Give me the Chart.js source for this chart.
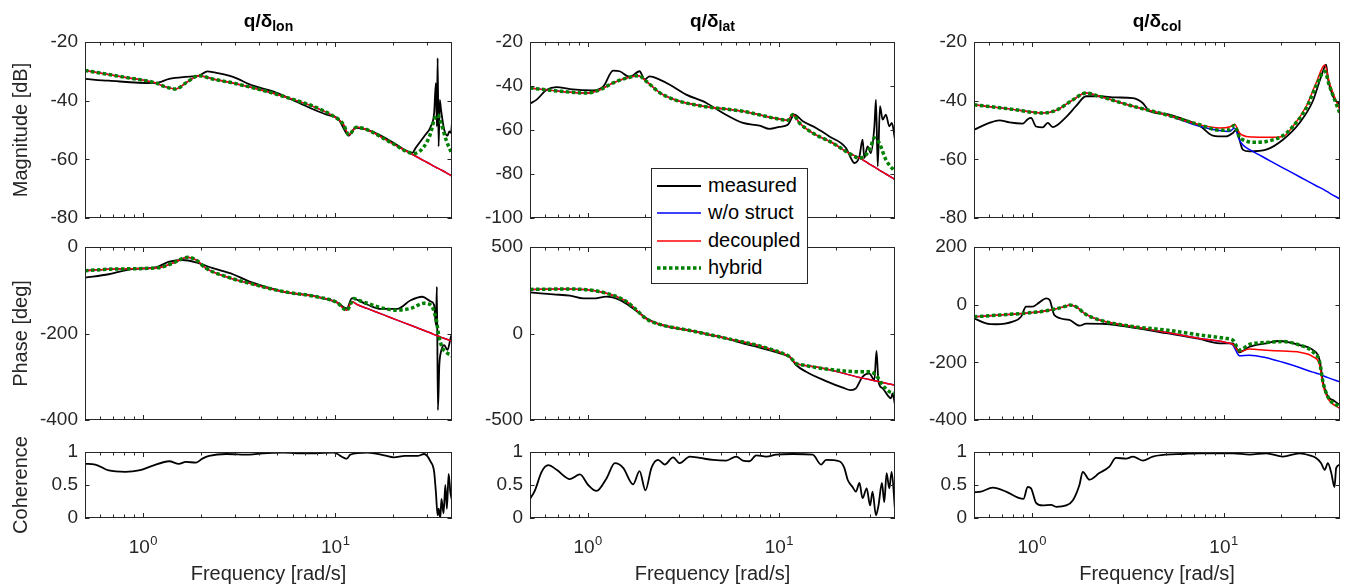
<!DOCTYPE html>
<html>
<head>
<meta charset="utf-8">
<script src="https://cdn.jsdelivr.net/npm/chart.js@4.4.1/dist/chart.umd.min.js"></script>
<style>
  html, body { margin: 0; padding: 0; background: #fff; }
  #fig { position: relative; width: 1349px; height: 588px; overflow: hidden;
         font-family: "Liberation Sans", Arial, Helvetica, sans-serif; color: #262626; }
  #fig canvas { position: absolute; }
  .ttl { position: absolute; top: 10px; width: 300px; text-align: center; font-weight: bold;
         font-size: 19px; line-height: 22px; color: #000; white-space: nowrap; }
  .ttl sub { font-size: 14px; vertical-align: -4px; line-height: 0; }
  #legend { position: absolute; left: 651px; top: 168px; width: 155px; height: 114px;
            border: 1px solid #262626; background: #fff; z-index: 5; }
  #legend svg { position: absolute; left: 5px; }
  #legend span { position: absolute; left: 56px; font-size: 20px; line-height: 24px; color: #000; }
</style>
</head>
<body>
<div id="fig"><div id="legend"></div></div>
<script>
// ========== DATA (frequency in rad/s) ==========
// q / delta_lon
const lonMagF   = [0.5, 0.8, 1.17, 1.3, 1.48, 1.71, 1.96, 2.3, 2.94, 5.36, 9.8, 11.06, 11.75, 12.9, 14.65, 20, 25.7, 29, 31.4, 32.7, 34.1, 35.5, 37.7, 40.5];
const lonMagDec = [-29.7, -32, -34, -35.2, -36, -33.5, -31.5, -32.6, -34, -38.5, -45.3, -48.2, -51.6, -49.1, -49.9, -54.7, -58.6, -60.5, -61.7, -62.4, -63, -63.6, -64.5, -65.7];
const lonMagHyb = [-29.7, -32, -34, -35.2, -36, -33.5, -31.5, -32.6, -34, -38.5, -45.3, -48.2, -51.6, -49.1, -49.9, -54.7, -58, -55.6, -51, -46.5, -44.8, -47.6, -53.3, -58.2];
const lonMagMeasF = [0.5, 0.664, 1.12, 1.21, 1.37, 1.67, 1.96, 2.17, 2.31, 2.94, 3.74, 4.75, 5.81, 7.4, 9.04, 10.4, 11.28, 11.75, 12.73, 14.65, 20.2, 22.8, 25.2, 26.2, 29.0, 31.4, 32.7, 33.4, 33.8, 34.1, 34.5, 35.0, 35.5, 36.9, 38.4, 39.2, 40.0, 40.5];
const lonMagMeas  = [-32.6, -33.2, -34, -33.8, -32.6, -31.9, -31.5, -30, -30.3, -31.9, -34.9, -36.8, -39.3, -42.5, -44.8, -46.3, -50.5, -51.9, -49.3, -49.9, -54.4, -56.7, -57.8, -56.1, -52.2, -48.8, -44.2, -34, -48.8, -25.5, -55.6, -39.7, -43, -49.9, -51.9, -50.5, -51, -47.6];

const lonPhF   = [0.5, 0.719, 1.21, 1.42, 1.71, 1.89, 2.13, 2.71, 3.59, 5.36, 8.02, 10.2, 11.5, 12.2, 12.5, 13, 14.65, 17.9, 21, 24.7, 29, 31.4, 33.4, 34.8, 36.2, 38.4, 40, 40.5];
const lonPhDec = [-54.7, -50.9, -47.8, -37.8, -23.9, -30, -49.3, -68.6, -84, -103, -115, -128, -146, -126, -128, -133, -142, -157, -169, -181, -193, -199, -204, -207, -210, -214, -217, -218];
const lonPhHyb = [-54.7, -50.9, -47.8, -37.8, -23.9, -30, -49.3, -68.6, -84, -103, -115, -128, -146, -126, -119, -122, -130, -142, -146, -142, -130, -134, -165, -211, -234, -246, -250, -252];
const lonPhMeasF = [0.5, 0.664, 0.88, 1.165, 1.37, 1.61, 1.89, 2.31, 2.94, 3.59, 5.36, 8.02, 10.2, 11.5, 12.2, 14.65, 17.2, 21.0, 24.7, 28.4, 31.4, 32.7, 33.4, 33.8, 34.2, 34.8, 35.5, 36.9, 38.4, 40.0, 40.5];
const lonPhMeas  = [-71, -63, -51, -47, -34, -30, -35.5, -49, -63, -80, -103, -115, -128, -142, -119, -133, -143, -143, -123, -115, -126, -134, -180, -92, -377, -273, -242, -227, -238, -207, -204];

const lonCohF = [0.5, 0.565, 0.664, 0.811, 0.953, 1.12, 1.37, 1.54, 1.67, 1.89, 2.04, 2.21, 2.71, 3.59, 4.2, 5.36, 7, 9.8, 11.5, 11.98, 14.65, 16, 18, 20.2, 23, 26.8, 29.0, 31.4, 32.7, 33.4, 34.1, 34.5, 35.2, 35.7, 36.6, 37.4, 38.1, 38.9, 39.7, 40.5];
const lonCoh  = [0.82, 0.81, 0.72, 0.70, 0.72, 0.79, 0.86, 0.82, 0.85, 0.84, 0.90, 0.94, 0.97, 0.96, 0.98, 0.99, 0.98, 0.99, 0.90, 0.96, 0.99, 0.98, 0.95, 0.92, 0.94, 0.94, 0.97, 0.85, 0.70, 0.39, 0.04, 0.14, 0.0, 0.29, 0.07, 0.5, 0.14, 0.67, 0.39, 0.27];

// q / delta_lat
const latMagF   = [0.5, 0.717, 0.988, 1.16, 1.36, 1.6, 1.84, 2.03, 2.38, 2.91, 4.01, 6.49, 9.68, 11.14, 11.83, 12.82, 15.04, 19.13, 22.9, 26.4, 28.6, 30.3, 31.6, 33.5, 36.3, 40.5];
const latMagDec = [-40.9, -42.4, -43.2, -41.7, -38.6, -36.4, -35.3, -37.9, -43, -46.5, -49.2, -51.5, -54.8, -55.6, -53, -56.8, -61.4, -65.9, -70.2, -72.7, -74.5, -75.9, -76.8, -78.2, -80, -82.5];
const latMagHyb = [-40.9, -42.4, -43.2, -41.7, -38.6, -36.4, -35.3, -37.9, -43, -46.5, -49.2, -51.5, -54.8, -55.6, -53, -56.8, -61.4, -65.9, -70.2, -72.7, -71.2, -67.4, -63.6, -65.9, -73.5, -79];
const latMagMeasF = [0.5, 0.542, 0.611, 0.689, 0.809, 1.07, 1.21, 1.36, 1.47, 1.66, 1.87, 1.99, 2.11, 2.38, 2.69, 3.28, 4.18, 5.1, 6.49, 7.93, 8.94, 10.08, 11.14, 12.07, 13.35, 15.66, 18.38, 22.45, 23.8, 24.8, 26.4, 27.4, 28.0, 29.1, 30.3, 31.6, 32.2, 32.9, 33.8, 34.9, 36.3, 37.8, 39.0, 40.5];
const latMagMeas  = [-48, -46.2, -41.7, -40.5, -41.4, -42, -40.2, -33, -33.3, -35.9, -33.3, -37.1, -35.6, -37.1, -39.4, -43.9, -47.7, -52.3, -56.8, -58, -59.5, -58.6, -57.6, -53, -56, -59.1, -62.9, -68.2, -72.7, -75, -72, -64.4, -72.7, -67.4, -70.5, -58.3, -46.2, -76.5, -49.2, -55.3, -53, -58.3, -56.8, -64.4];

const latPhF   = [0.5, 0.777, 1.114, 1.417, 1.6, 1.8, 2.03, 2.38, 3.56, 5.31, 7.93, 10.49, 11.37, 12.31, 13.35, 17.66, 26.4, 29.7, 32.2, 34.9, 37.8, 40.5];
const latPhDec = [255, 257, 246, 213, 184, 136, 84, 53, 14, -28, -72, -115, -134, -173, -182, -205, -254, -266, -275, -283, -292, -299];
const latPhHyb = [255, 257, 246, 213, 184, 136, 84, 53, 14, -28, -72, -115, -134, -173, -182, -205, -221, -221, -240, -298, -336, -346];
const latPhMeasF = [0.5, 0.662, 0.809, 0.949, 1.07, 1.256, 1.47, 1.73, 2.03, 2.38, 3.56, 5.31, 6.49, 7.93, 10.49, 11.37, 12.31, 13.89, 17.66, 21.6, 23.8, 25.3, 27.4, 29.7, 31.6, 32.4, 33.2, 34.9, 37.0, 38.6, 39.3, 40.5];
const latPhMeas  = [238, 226, 219, 203, 203, 213, 194, 145, 88, 53, 14, -28, -57, -82, -120, -134, -182, -221, -275, -313, -327, -317, -250, -230, -269, -101, -279, -317, -356, -375, -346, -413];

const latCohF = [0.5, 0.531, 0.575, 0.623, 0.689, 0.809, 0.912, 1.008, 1.114, 1.256, 1.389, 1.535, 1.73, 1.87, 2.007, 2.158, 2.337, 2.532, 2.8, 3.03, 3.42, 3.86, 4.53, 5.31, 5.99, 6.49, 7.03, 7.62, 8.59, 9.68, 11.83, 15.04, 16.63, 17.66, 20.7, 22.0, 22.9, 24.3, 25.3, 26.4, 27.4, 28.8, 30.0, 30.9, 32.2, 33.2, 34.6, 35.6, 36.6, 37.8, 38.9, 40.5];
const latCoh  = [0.29, 0.42, 0.70, 0.80, 0.73, 0.59, 0.66, 0.50, 0.41, 0.60, 0.83, 0.76, 0.51, 0.71, 0.42, 0.76, 0.88, 0.81, 0.92, 0.83, 0.93, 0.91, 0.88, 0.87, 0.93, 0.87, 0.86, 0.95, 0.93, 0.96, 0.97, 0.96, 0.81, 0.88, 0.86, 0.76, 0.58, 0.47, 0.40, 0.53, 0.30, 0.45, 0.19, 0.40, 0.04, 0.19, 0.53, 0.24, 0.68, 0.45, 0.70, 0.12];

// q / delta_col
const colMagF   = [0.5, 0.765, 1.14, 1.34, 1.64, 1.92, 2.25, 3.37, 5.02, 7.5, 9.53, 10.75, 11.41, 12.12, 12.6, 13.13, 14.22, 16.7, 20.4, 23.0, 27.0, 30.4, 33.7, 35.7, 40.5];
const colMagDec = [-41.4, -42.8, -44.2, -43.3, -39.7, -37.4, -38.5, -41.9, -44.8, -48.2, -49.3, -49, -48, -51, -51.8, -52.2, -52.4, -52.5, -52.2, -48.8, -41.9, -34, -27.8, -34, -43.3];
const colMagNo  = [-41.4, -42.8, -44.2, -43.3, -39.7, -37.4, -38.5, -41.9, -44.8, -48.7, -50.2, -50.5, -49.3, -53.5, -55, -56, -57.3, -59.8, -62.9, -64.7, -67.2, -69, -70.5, -71.5, -73.5];
const colMagHyb = [-41.4, -42.8, -44.2, -43.3, -39.7, -37.4, -38.5, -41.9, -44.8, -48.2, -50.1, -49.9, -48.5, -52.5, -53.3, -53.8, -54.2, -53.9, -51.9, -48.8, -42.5, -35, -30, -35, -44.4];
const colMagMeasF = [0.5, 0.601, 0.678, 0.765, 0.898, 0.953, 0.992, 1.053, 1.14, 1.212, 1.287, 1.51, 1.70, 1.92, 2.25, 2.75, 3.37, 3.79, 4.11, 5.02, 6.14, 7.5, 8.8, 10.3, 11.19, 11.65, 12.6, 13.67, 16.7, 20.4, 24.9, 29.2, 32.3, 34.3, 35.0, 37.2, 40.5];
const colMagMeas  = [-49.9, -47.6, -46.7, -47.4, -47.8, -46.3, -45.9, -48.8, -49.1, -47.6, -49, -45.6, -41.9, -38.5, -38.5, -38.9, -39.1, -40.8, -43.6, -44.5, -46.3, -48.5, -51.9, -52.2, -51, -49.9, -56.7, -57.3, -56.7, -53.3, -47.6, -40.2, -31.7, -27.7, -32.3, -38.5, -41.4];

const colPhF   = [0.5, 0.678, 1.01, 1.24, 1.51, 1.57, 1.70, 1.92, 2.25, 3.37, 5.02, 7.5, 10.3, 11.19, 12.12, 13.67, 16.7, 20.4, 24.9, 29.2, 31.7, 33.0, 35.0, 40.5];
const colPhDec = [-42, -36, -27, -19, -5, -1, -7, -34, -53, -76, -96, -117, -131, -138, -163, -154, -158, -161, -165, -180, -209, -279, -325, -361];
const colPhNo  = [-42, -36, -27, -19, -5, -1, -7, -34, -53, -76, -96, -117, -131, -140, -177, -175, -184, -200, -218, -234, -241, -246, -253, -268];
const colPhHyb = [-42, -36, -27, -19, -5, -1, -7, -34, -53, -76, -88, -105, -117, -123, -157, -138, -131, -128, -140, -163, -198, -267, -319, -355];
const colPhMeasF = [0.5, 0.578, 0.652, 0.796, 0.88, 0.934, 1.01, 1.096, 1.188, 1.24, 1.313, 1.57, 1.773, 1.92, 2.44, 3.37, 5.02, 7.5, 9.53, 11.19, 12.12, 13.67, 16.7, 19.6, 24.9, 29.2, 31.7, 33.0, 35.0, 37.2, 40.5];
const colPhMeas  = [-47, -65, -68, -59, -42, -7, -7, 8, 22, 16, -36, -53, -73, -66, -67, -80, -99, -119, -134, -134, -165, -146, -134, -126, -140, -157, -192, -267, -319, -331, -348];

const colCohF = [0.5, 0.544, 0.626, 0.735, 0.862, 0.905, 0.953, 0.992, 1.053, 1.14, 1.261, 1.34, 1.51, 1.64, 1.773, 1.845, 2.0, 2.25, 2.54, 2.75, 3.11, 3.37, 3.79, 4.28, 5.02, 6.14, 7.5, 11.19, 13.67, 16.7, 20.4, 24.9, 28.1, 30.4, 32.3, 33.7, 35.0, 36.5, 37.9, 38.7, 40.5];
const colCoh  = [0.39, 0.40, 0.46, 0.40, 0.30, 0.29, 0.47, 0.45, 0.23, 0.19, 0.20, 0.17, 0.19, 0.27, 0.50, 0.70, 0.58, 0.68, 0.78, 0.91, 0.90, 0.93, 0.87, 0.93, 0.96, 0.97, 0.98, 0.98, 0.96, 0.98, 0.93, 0.98, 0.95, 0.91, 0.83, 0.73, 0.83, 0.68, 0.47, 0.76, 0.81];

// axis ticks
const freqTicks = [0.5, 0.6, 0.7, 0.8, 0.9, 1, 2, 3, 4, 5, 6, 7, 8, 9, 10, 20, 30, 40];
const freqLabels = [1, 10];
const freqMin = 0.5, freqMax = 40.5;

// ========== STYLE ==========
const FONT = '"Liberation Sans", Arial, Helvetica, sans-serif';
const AXC = '#262626';
const colLeft = [85, 530, 974], colRight = [452, 895, 1340];
const rowTop = [42, 247, 452], rowBottom = [218, 420, 518];

const styles = {
  meas: { label: 'measured',   color: '#000000', width: 1.8, dash: [], order: 4 },
  no:   { label: 'w/o struct', color: '#0000ff', width: 1.5, dash: [], order: 3 },
  dec:  { label: 'decoupled',  color: '#ff0000', width: 1.5, dash: [], order: 2 },
  hyb:  { label: 'hybrid',     color: '#008000', width: 3.5, dash: [3.5, 2.5], order: 1 }
};

function xy(f, v) { return f.map((x, i) => ({ x: x, y: v[i] })); }

const panels = [
  { r: 0, c: 0, y: [-80, -20, 20], ttl: 'Magnitude [dB]', lines: [
    ['meas', lonMagMeasF, lonMagMeas], ['no', lonMagF, lonMagDec], ['dec', lonMagF, lonMagDec], ['hyb', lonMagF, lonMagHyb]] },
  { r: 1, c: 0, y: [-400, 0, 200], ttl: 'Phase [deg]', lines: [
    ['meas', lonPhMeasF, lonPhMeas], ['no', lonPhF, lonPhDec], ['dec', lonPhF, lonPhDec], ['hyb', lonPhF, lonPhHyb]] },
  { r: 2, c: 0, y: [0, 1, 0.5], ttl: 'Coherence', lines: [['meas', lonCohF, lonCoh]] },
  { r: 0, c: 1, y: [-100, -20, 20], lines: [
    ['meas', latMagMeasF, latMagMeas], ['no', latMagF, latMagDec], ['dec', latMagF, latMagDec], ['hyb', latMagF, latMagHyb]] },
  { r: 1, c: 1, y: [-500, 500, 500], lines: [
    ['meas', latPhMeasF, latPhMeas], ['no', latPhF, latPhDec], ['dec', latPhF, latPhDec], ['hyb', latPhF, latPhHyb]] },
  { r: 2, c: 1, y: [0, 1, 0.5], lines: [['meas', latCohF, latCoh]] },
  { r: 0, c: 2, y: [-80, -20, 20], lines: [
    ['meas', colMagMeasF, colMagMeas], ['no', colMagF, colMagNo], ['dec', colMagF, colMagDec], ['hyb', colMagF, colMagHyb]] },
  { r: 1, c: 2, y: [-400, 200, 200], lines: [
    ['meas', colPhMeasF, colPhMeas], ['no', colPhF, colPhNo], ['dec', colPhF, colPhDec], ['hyb', colPhF, colPhHyb]] },
  { r: 2, c: 2, y: [0, 1, 0.5], lines: [['meas', colCohF, colCoh]] }
];

const titles = [['q/δ', 'lon'], ['q/δ', 'lat'], ['q/δ', 'col']];

// box with inward ticks, MATLAB style
const boxPlugin = {
  id: 'matlabBox',
  afterDatasetsDraw(chart) {
    const { ctx, chartArea: a } = chart;
    const xs = chart.scales.x, ys = chart.scales.y;
    ctx.save();
    ctx.strokeStyle = AXC;
    ctx.lineWidth = 1;
    ctx.beginPath();
    freqTicks.forEach(v => {
      const px = Math.round(xs.getPixelForValue(v)) + 0.5;
      const len = freqLabels.includes(v) ? 5 : 3.5;
      ctx.moveTo(px, a.bottom); ctx.lineTo(px, a.bottom - len);
      ctx.moveTo(px, a.top); ctx.lineTo(px, a.top + len);
    });
    ys.ticks.forEach(t => {
      const py = Math.round(ys.getPixelForValue(t.value)) + 0.5;
      ctx.moveTo(a.left, py); ctx.lineTo(a.left + 4.5, py);
      ctx.moveTo(a.right, py); ctx.lineTo(a.right - 4.5, py);
    });
    ctx.stroke();
    ctx.strokeRect(Math.round(a.left) + 0.5, Math.round(a.top) + 0.5,
                   Math.round(a.right - a.left) - 1, Math.round(a.bottom - a.top) - 1);
    ctx.restore();
  },
  afterDraw(chart, args, opts) {
    if (!opts.powerLabels) return;
    const { ctx, chartArea: a } = chart;
    const xs = chart.scales.x;
    ctx.save();
    ctx.fillStyle = AXC;
    ctx.textBaseline = 'alphabetic';
    ctx.textAlign = 'left';
    freqLabels.forEach(v => {
      const base = '10', exp = String(Math.round(Math.log10(v)));
      ctx.font = '19px ' + FONT;
      const w1 = ctx.measureText(base).width;
      ctx.font = '13px ' + FONT;
      const w2 = ctx.measureText(exp).width;
      const x0 = xs.getPixelForValue(v) - (w1 + w2) / 2;
      ctx.font = '19px ' + FONT;
      ctx.fillText(base, x0, a.bottom + 35);
      ctx.font = '13px ' + FONT;
      ctx.fillText(exp, x0 + w1 + 0.5, a.bottom + 27);
    });
    ctx.restore();
  }
};

const fig = document.getElementById('fig');

function makePanel(p) {
  // y tick labels need about 19px of room above and below the plot box
  const padT = 22, padR = 15, yw = 85;
  const xh = p.r === 2 ? 588 - rowBottom[2] : 22;
  const w = yw + (colRight[p.c] - colLeft[p.c]) + padR;
  const h = padT + (rowBottom[p.r] - rowTop[p.r]) + xh;
  const cv = document.createElement('canvas');
  cv.width = w; cv.height = h;
  cv.style.left = (colLeft[p.c] - yw) + 'px';
  cv.style.top = (rowTop[p.r] - padT) + 'px';
  cv.style.width = w + 'px';
  cv.style.height = h + 'px';
  fig.appendChild(cv);

  const datasets = p.lines.map(([key, f, v]) => {
    const s = styles[key];
    return {
      label: s.label,
      data: xy(f, v),
      borderColor: s.color,
      borderWidth: s.width,
      borderDash: s.dash,
      borderCapStyle: 'butt',
      borderJoinStyle: 'round',
      pointRadius: 0,
      fill: false,
      cubicInterpolationMode: 'monotone',
      order: s.order
    };
  });

  return new Chart(cv, {
    type: 'line',
    data: { datasets: datasets },
    options: {
      responsive: false,
      animation: false,
      devicePixelRatio: 1,
      layout: { autoPadding: false, padding: { top: padT, right: padR, left: 0, bottom: 0 } },
      plugins: {
        legend: { display: false },
        tooltip: { enabled: false },
        matlabBox: { powerLabels: p.r === 2 }
      },
      scales: {
        x: {
          type: 'logarithmic',
          min: freqMin,
          max: freqMax,
          grid: { display: false, drawTicks: false },
          border: { display: false },
          ticks: { display: false },
          afterFit(s) { s.height = xh; },
          title: {
            display: p.r === 2,
            text: 'Frequency [rad/s]',
            color: AXC,
            font: { family: FONT, size: 20 },
            padding: { top: 0, bottom: 2 }
          }
        },
        y: {
          min: p.y[0],
          max: p.y[1],
          grid: { display: false, drawTicks: false },
          border: { display: false },
          ticks: {
            stepSize: p.y[2],
            color: AXC,
            font: { family: FONT, size: 19 },
            padding: 7,
            callback: v => String(+v.toFixed(3))
          },
          afterFit(s) { s.width = yw; },
          title: {
            display: !!p.ttl,
            text: p.ttl || '',
            color: AXC,
            font: { family: FONT, size: 20 },
            padding: { top: 9, bottom: 0 }
          }
        }
      }
    },
    plugins: [boxPlugin]
  });
}

panels.forEach(makePanel);

// column titles
titles.forEach((t, c) => {
  const d = document.createElement('div');
  d.className = 'ttl';
  d.style.left = ((colLeft[c] + colRight[c]) / 2 - 150) + 'px';
  d.innerHTML = t[0] + '<sub>' + t[1] + '</sub>';
  fig.appendChild(d);
});

// legend
const legend = document.getElementById('legend');
const legendRows = [17, 44, 72, 99];
['meas', 'no', 'dec', 'hyb'].forEach((key, i) => {
  const s = styles[key];
  const cy = legendRows[i];
  const svg = document.createElementNS('http://www.w3.org/2000/svg', 'svg');
  svg.setAttribute('width', '44');
  svg.setAttribute('height', '8');
  svg.style.top = (cy - 4) + 'px';
  const ln = document.createElementNS('http://www.w3.org/2000/svg', 'line');
  ln.setAttribute('x1', '0'); ln.setAttribute('y1', '4');
  ln.setAttribute('x2', '44'); ln.setAttribute('y2', '4');
  ln.setAttribute('stroke', s.color);
  ln.setAttribute('stroke-width', s.width);
  if (s.dash.length) ln.setAttribute('stroke-dasharray', s.dash.join(' '));
  svg.appendChild(ln);
  legend.appendChild(svg);
  const sp = document.createElement('span');
  sp.textContent = s.label;
  sp.style.top = (cy - 13) + 'px';
  legend.appendChild(sp);
});
</script>
</body>
</html>
